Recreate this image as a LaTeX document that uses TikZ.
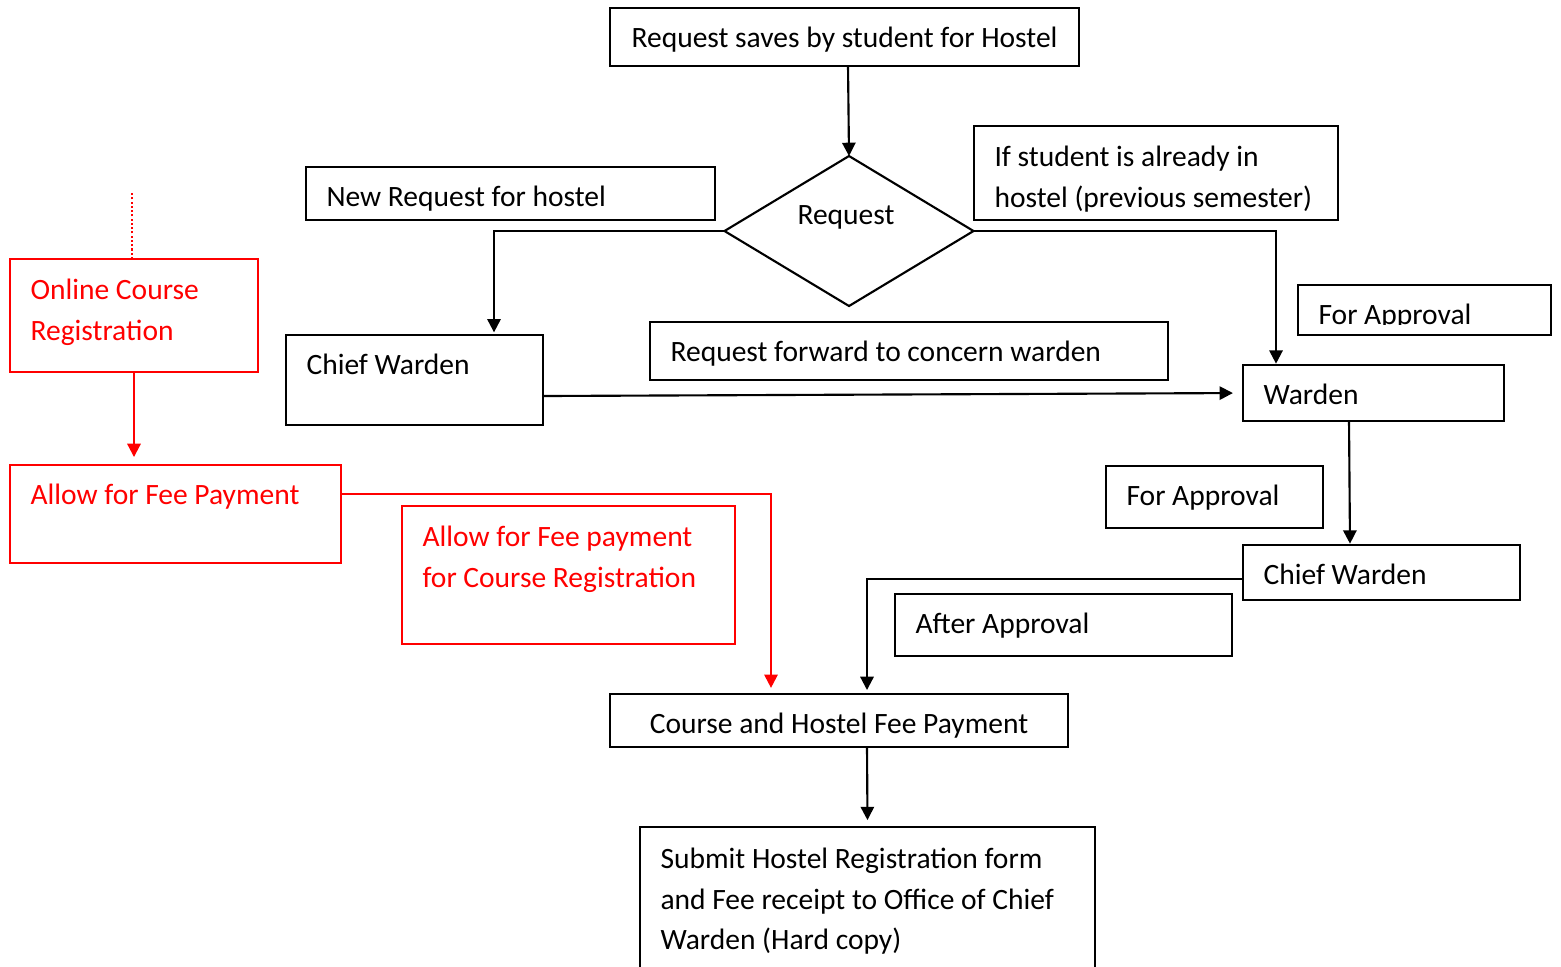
\documentclass[tikz,border=0pt]{standalone}
\usepackage{fontspec}
\setmainfont{Carlito}
\usetikzlibrary{shapes.geometric,fit,arrows.meta}

\begin{document}
\begin{tikzpicture}[x=0.376pt,y=-0.376pt,
    box/.style={draw, line width=0.8pt, inner sep=0pt, outer sep=0pt},
    redbox/.style={box, draw=red},
    txt/.style={anchor=north west, inner sep=0pt, align=left,
        font=\fontsize{11.1}{15.4}\selectfont, execute at begin node=\strut},
    arr/.style={line width=0.8pt, -{Triangle[length=5pt,width=5pt]}},
    redarr/.style={arr, red}]
    \useasboundingbox (0,0) rectangle (1561,966);

    \node[box, fit={(610,8) (1079,66)}] (save) {};
    \node[txt, anchor=north] at ([shift={(0,10.5)}]save.north) {Request saves by student for Hostel};

    \node[draw, diamond, line width=0.8pt, inner sep=0pt, outer sep=0pt,
        minimum width=249*0.376pt, minimum height=150*0.376pt] (req) at (849,231) {};
    \node[font=\fontsize{11.1}{15.4}\selectfont, inner sep=0pt] at ([shift={(-3,-14)}]req.center) {Request};
    \draw[arr] ([shift={(3.5,0)}]save.south) -- (req.north);

    \node[box, fit={(306,167) (715,220)}] (newreq) {};
    \node[txt] at ([shift={(20,10.5)}]newreq.north west) {New Request for hostel};

    \node[box, fit={(974,126) (1338,220)}] (oldstud) {};
    \node[txt] at ([shift={(20,19.5)}]oldstud.north west) {If student is already in\\hostel (previous semester)};

    \node[box, fit={(286,335) (543,425)}] (cw1) {};
    \node[txt] at ([shift={(20,10.5)}]cw1.north west) {Chief Warden};

    \node[box, fit={(650,322) (1168,380)}] (fwd) {};
    \node[txt] at ([shift={(20,10.5)}]fwd.north west) {Request forward to concern warden};

    \node[box, fit={(1298,285) (1551,335)}] (appr1) {};
    \begin{scope}
        \clip (appr1.north west) rectangle ([shift={(0,-11)}]appr1.south east);
        \node[txt] at ([shift={(20,10.5)}]appr1.north west) {For Approval};
    \end{scope}

    \node[box, fit={(1243,365) (1504,421)}] (warden) {};
    \node[txt] at ([shift={(20,10.5)}]warden.north west) {Warden};

    \node[box, fit={(1106,466) (1323,528)}] (appr2) {};
    \node[txt] at ([shift={(20,10.5)}]appr2.north west) {For Approval};

    \node[box, fit={(1243,545) (1520,600)}] (cw2) {};
    \node[txt] at ([shift={(20,10.5)}]cw2.north west) {Chief Warden};

    \node[box, fit={(895,594) (1232,656)}] (after) {};
    \node[txt] at ([shift={(20,10.5)}]after.north west) {After Approval};

    \node[box, fit={(610,694) (1068,747)}] (pay) {};
    \node[txt, anchor=north] at ([shift={(0,10.5)}]pay.north) {Course and Hostel Fee Payment};

    \node[box, fit={(640,827) (1095,990)}] (submit) {};
    \node[txt] at ([shift={(20,20)}]submit.north west) {Submit Hostel Registration form\\and Fee receipt to Office of Chief\\Warden (Hard copy)};

    \draw[arr, shorten >=1pt] (req.west) -| ([shift={(79.5,0)}]cw1.north);
    \draw[arr, shorten >=0.5pt] (req.east) -| ([shift={(-97.5,0)}]warden.north);
    \draw[arr, shorten >=3.8pt] ([shift={(0,16)}]cw1.east) -- (warden.west);
    \draw[arr, shorten >=0.5pt] ([shift={(-24.5,0)}]warden.south) -- ([shift={(-31.5,0)}]cw2.north);
    \draw[arr, shorten >=1.5pt] ([shift={(0,6.5)}]cw2.west) -| ([shift={(28,0)}]pay.north);
    \draw[arr, shorten >=2.6pt] ([shift={(28,0)}]pay.south) -- (submit.north);

    % red part
    \node[redbox, fit={(10,259) (258,372)}] (online) {};
    \node[txt, red] at ([shift={(20,19)}]online.north west) {Online Course\\Registration};

    \node[redbox, fit={(10,465) (341,563)}] (allow1) {};
    \node[txt, red] at ([shift={(20,10.5)}]allow1.north west) {Allow for Fee Payment};

    \node[redbox, fit={(402,506) (735,644)}] (allow2) {};
    \node[txt, red] at ([shift={(20,19)}]allow2.north west) {Allow for Fee payment\\for Course Registration};

    \draw[red, line width=0.5pt, dash pattern=on 0.8pt off 0.8pt] ([shift={(-2,0)}]online.north) -- ++(0,-66);
    \draw[redarr, shorten >=3pt] (online.south) -- (online.south |- allow1.north);
    \draw[redarr, shorten >=2.3pt] ([shift={(0,-20)}]allow1.east) -| ([shift={(-68,0)}]pay.north);
\end{tikzpicture}
\end{document}
